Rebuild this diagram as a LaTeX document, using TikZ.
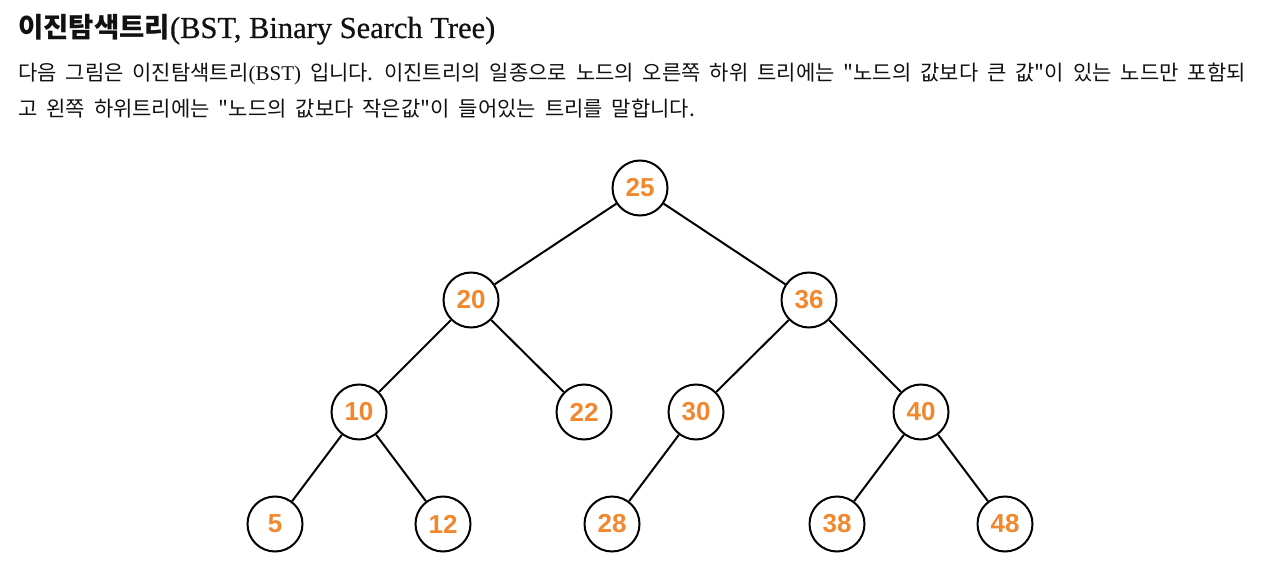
\documentclass[tikz,border=0pt]{standalone}
\usepackage{fontspec}
\setmainfont{Liberation Serif}
\newfontfamily\krfont{Noto Sans CJK KR}
\newfontfamily\krbodyfont[WordSpace=1.9]{Noto Sans CJK KR}
\newfontfamily\titlelatin[FakeBold=0.6]{Liberation Serif}
\newfontfamily\numfont{Liberation Sans}
\usetikzlibrary{positioning}
\definecolor{valuecolor}{RGB}{241,136,46}
\definecolor{labelcolor}{RGB}{17,17,17}
\definecolor{edgecolor}{RGB}{0,0,0}
\tikzset{
titletext/.style={
  anchor=base west,
  inner sep=0pt,
  text=labelcolor,
  font=\titlelatin\fontsize{30.5}{34}\selectfont
},
bodytext/.style={
  anchor=base west,
  inner sep=0pt,
  text=labelcolor,
  font=\krbodyfont\fontsize{21}{26}\selectfont
},
treenode/.style={
  circle,
  draw=edgecolor,
  line width=2pt,
  fill=white,
  minimum size=55pt,
  inner sep=0pt,
  text=valuecolor,
  font=\numfont\bfseries\fontsize{26}{26}\selectfont
},
treeedge/.style={
  draw=edgecolor,
  line width=2pt
}
}

\begin{document}
\begin{tikzpicture}[x=1pt,y=-1pt]
  \useasboundingbox (0,0) rectangle (1280,588);

  \node[titletext] (title) at (18,38) {{\krfont\bfseries\fontsize{27.5}{34}\selectfont 이진탐색트리}(BST, Binary Search Tree)};
  \node[bodytext] (line1) at (18,81) {다음 그림은 이진탐색트리{\rmfamily(BST)} 입니다. 이진트리의 일종으로 노드의 오른쪽 하위 트리에는 "노드의 값보다 큰 값"이 있는 노드만 포함되};
  \node[bodytext] (line2) at (18,117) {고 왼쪽 하위트리에는 "노드의 값보다 작은값"이 들어있는 트리를 말합니다.};

  \node[treenode] (n25) at (640,188) {25};
  \node[treenode] (n20) at (471,300) {20};
  \node[treenode] (n36) at (809,300) {36};
  \node[treenode] (n10) at (359,412) {10};
  \node[treenode] (n22) at (584,412) {22};
  \node[treenode] (n30) at (696,412) {30};
  \node[treenode] (n40) at (921,412) {40};
  \node[treenode] (n5) at (275,524) {5};
  \node[treenode] (n12) at (443,524) {12};
  \node[treenode] (n28) at (612,524) {28};
  \node[treenode] (n38) at (837,524) {38};
  \node[treenode] (n48) at (1005,524) {48};

  \draw[treeedge] (n25) -- (n20);
  \draw[treeedge] (n25) -- (n36);
  \draw[treeedge] (n20) -- (n10);
  \draw[treeedge] (n20) -- (n22);
  \draw[treeedge] (n36) -- (n30);
  \draw[treeedge] (n36) -- (n40);
  \draw[treeedge] (n10) -- (n5);
  \draw[treeedge] (n10) -- (n12);
  \draw[treeedge] (n30) -- (n28);
  \draw[treeedge] (n40) -- (n38);
  \draw[treeedge] (n40) -- (n48);
\end{tikzpicture}
\end{document}
